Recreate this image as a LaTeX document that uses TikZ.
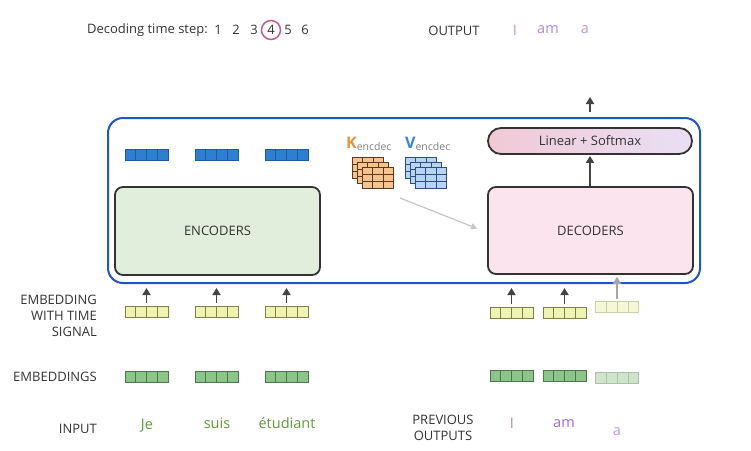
\documentclass[tikz,border=0pt]{standalone}
\usepackage{fontspec}
\setmainfont{Open Sans}
\usepackage{tikz}
\usetikzlibrary{positioning,arrows.meta,calc}
\usepackage{xcolor}

\definecolor{txtdark}{HTML}{333333}
\definecolor{frameblue}{HTML}{1F55C6}
\definecolor{inkgray}{HTML}{444444}
\definecolor{wordgreen}{HTML}{5E9A3C}
\definecolor{wordpurple}{HTML}{9A6BC4}
\definecolor{wordlilac}{HTML}{B79AD8}
\definecolor{ringpink}{HTML}{C65A92}
\definecolor{encfill}{HTML}{E2EEDC}
\definecolor{decfill}{HTML}{FCE4EE}
\definecolor{linleft}{HTML}{F1C9D5}
\definecolor{linright}{HTML}{E9DFF5}
\definecolor{vblue}{HTML}{2E7FD2}
\definecolor{vblueline}{HTML}{1D5A9E}
\definecolor{vyellow}{HTML}{EEF3B2}
\definecolor{vyellowline}{HTML}{7F8048}
\definecolor{vyellowfade}{HTML}{F5F7D9}
\definecolor{vyellowfadeline}{HTML}{CBCFA6}
\definecolor{vgreen}{HTML}{8DC48A}
\definecolor{vgreenline}{HTML}{4A784A}
\definecolor{vgreenfade}{HTML}{CFE4CA}
\definecolor{vgreenfadeline}{HTML}{A8C2A5}
\definecolor{korange}{HTML}{F6C38F}
\definecolor{korangeline}{HTML}{5A3A1E}
\definecolor{klabel}{HTML}{E8913A}
\definecolor{vlight}{HTML}{B8D4F4}
\definecolor{vlightline}{HTML}{2B4E80}
\definecolor{vlabel}{HTML}{3D82D6}

\tikzset{
    label/.style={text=txtdark, font=\fontsize{13}{16}\selectfont, inner sep=0pt},
    word/.style={font=\fontsize{14.5}{16}\selectfont, inner sep=0pt},
    block/.style={draw=txtdark, line width=1.8pt, rounded corners=8pt,
        minimum width=205pt, label},
    vecbox/.style={minimum width=43pt, minimum height=11pt, inner sep=0pt, line width=0.8pt},
    uparrow/.style={draw=inkgray, line width=1.7pt, -{Triangle[length=7pt,width=8pt]}},
}

% one embedding vector: name, centre, fill, line colour
\newcommand\embvec[4]{%
    \node[vecbox, fill=#3, draw=#4] (#1) at (#2) {};
    \foreach \k in {1,2,3}
        \draw[#4, line width=0.6pt] ($(#1.north west)!\k/4!(#1.north east)$) -- ($(#1.south west)!\k/4!(#1.south east)$);
}

% one layer of a K or V matrix: name, north west corner, fill, line colour
\newcommand\matlayer[4]{%
    \node[draw=#4, fill=#3, line width=0.6pt, minimum width=31pt, minimum height=21pt,
        inner sep=0pt, anchor=north west] (#1) at (#2) {};
    \foreach \k in {1,2}
        \draw[#4, line width=0.5pt] ($(#1.north west)!\k/3!(#1.north east)$) -- ($(#1.south west)!\k/3!(#1.south east)$)
                                    ($(#1.north west)!\k/3!(#1.south west)$) -- ($(#1.north east)!\k/3!(#1.south east)$);
}

\begin{document}
\begin{tikzpicture}[x=1pt, y=-1pt]

    \useasboundingbox (0,0) rectangle (751,450);

    % Time step header with the current step circled
    \node[label, anchor=east] (steplbl) at (208,30) {Decoding time step:};
    \foreach \n/\xx in {1/218, 2/236, 3/254, 4/271, 5/288, 6/305}
        \node[label] (t\n) at (\xx,30) {\n};
    \draw[ringpink, line width=1.5pt] (t4) circle (9.5pt);

    % Output words
    \node[label] (outlbl) at (454,31) {OUTPUT};
    \node[word, text=wordlilac] (out1) at (515,30) {I};
    \node[word, text=wordpurple!80] (out2) at (548,30) {am};
    \node[word, text=wordlilac] (out3) at (585,30) {a};

    % Blue frame round the stacks
    \node[draw=frameblue, line width=2pt, rounded corners=15pt,
        minimum width=592pt, minimum height=165pt] (frame) at (404,200.5) {};

    % Encoder and decoder stacks
    \node[block, fill=encfill, minimum height=88pt] (enc) at (217.5,231) {ENCODERS};
    \node[block, fill=decfill, minimum height=87pt] (dec) at (590.5,230.5) {DECODERS};
    \node[draw=txtdark, line width=1.8pt, rounded corners=13pt, minimum width=204pt,
        minimum height=26pt, left color=linleft, right color=linright,
        label] (lin) at (590,141) {Linear + Softmax};

    % Encoder output vectors
    \embvec{enco1}{146.5,154.5}{vblue}{vblueline}
    \embvec{enco2}{216.5,154.5}{vblue}{vblueline}
    \embvec{enco3}{286.5,154.5}{vblue}{vblueline}

    % K and V matrices
    \node[inner sep=0pt, anchor=west] (klbl) at (346,144)
        {{\color{klabel}\fontsize{16}{17}\selectfont\bfseries K}\raisebox{-2pt}{\color{gray}\fontsize{10.5}{11}\selectfont encdec}};
    \node[inner sep=0pt, anchor=west] (vlbl) at (405,144)
        {{\color{vlabel}\fontsize{16}{17}\selectfont\bfseries V}\raisebox{-2pt}{\color{gray}\fontsize{10.5}{11}\selectfont encdec}};
    \matlayer{ka}{352,157}{korange}{korangeline}
    \matlayer{kb}{357,162}{korange}{korangeline}
    \matlayer{kc}{362,167}{korange}{korangeline}
    \matlayer{va}{405,157}{vlight}{vlightline}
    \matlayer{vb}{410,162}{vlight}{vlightline}
    \matlayer{vc}{415,167}{vlight}{vlightline}
    \coordinate (kvout) at (400,198);
    \draw[gray!45, line width=1.2pt, -{Triangle[length=6pt,width=6pt]}] (kvout) -- ($(dec.west)+(-10,-2)$);

    % Embeddings with time signal
    \embvec{sig1}{146.5,312}{vyellow}{vyellowline}
    \embvec{sig2}{216.5,312}{vyellow}{vyellowline}
    \embvec{sig3}{286.5,312}{vyellow}{vyellowline}
    \embvec{sig4}{511.5,312.5}{vyellow}{vyellowline}
    \embvec{sig5}{564.5,312.5}{vyellow}{vyellowline}
    \embvec{sig6}{617,306.5}{vyellowfade}{vyellowfadeline}

    % Plain embeddings
    \embvec{emb1}{146.5,376.5}{vgreen}{vgreenline}
    \embvec{emb2}{216.5,376.5}{vgreen}{vgreenline}
    \embvec{emb3}{286.5,376.5}{vgreen}{vgreenline}
    \embvec{emb4}{511.5,375.5}{vgreen}{vgreenline}
    \embvec{emb5}{564.5,375.5}{vgreen}{vgreenline}
    \embvec{emb6}{617,378}{vgreenfade}{vgreenfadeline}

    % Arrows into the frame
    \foreach \i in {1,2,3,4,5}
        \draw[uparrow, shorten <=3pt, shorten >=4pt] (sig\i.north) -- (sig\i.north |- frame.south);
    \draw[uparrow, draw=gray!70, shorten <=2pt, shorten >=2pt] (sig6.north) -- (sig6.north |- dec.south);
    \draw[uparrow, shorten >=1pt] (dec.north -| lin.south) -- (lin.south);
    \coordinate (outtop) at (590,97);
    \draw[uparrow, shorten <=5pt] (lin.north |- frame.north) -- (outtop);

    % Row labels
    \node[label, anchor=east, align=right] (sigrow) at (97,316) {EMBEDDING\\WITH TIME\\SIGNAL};
    \node[label, anchor=east] (embrow) at (97,377) {EMBEDDINGS};
    \node[label, anchor=east] (inrow) at (97,429) {INPUT};
    \node[label, align=center] (prevrow) at (443,428) {PREVIOUS\\OUTPUTS};

    % Input and previous output words
    \node[word, text=wordgreen] (in1) at (147,426) {Je};
    \node[word, text=wordgreen] (in2) at (217,423) {suis};
    \node[word, text=wordgreen] (in3) at (287,423) {étudiant};
    \node[word, text=wordpurple!80] (prev1) at (512,423) {I};
    \node[word, text=wordpurple] (prev2) at (564,424) {am};
    \node[word, text=wordlilac] (prev3) at (617,432) {a};

\end{tikzpicture}
\end{document}
